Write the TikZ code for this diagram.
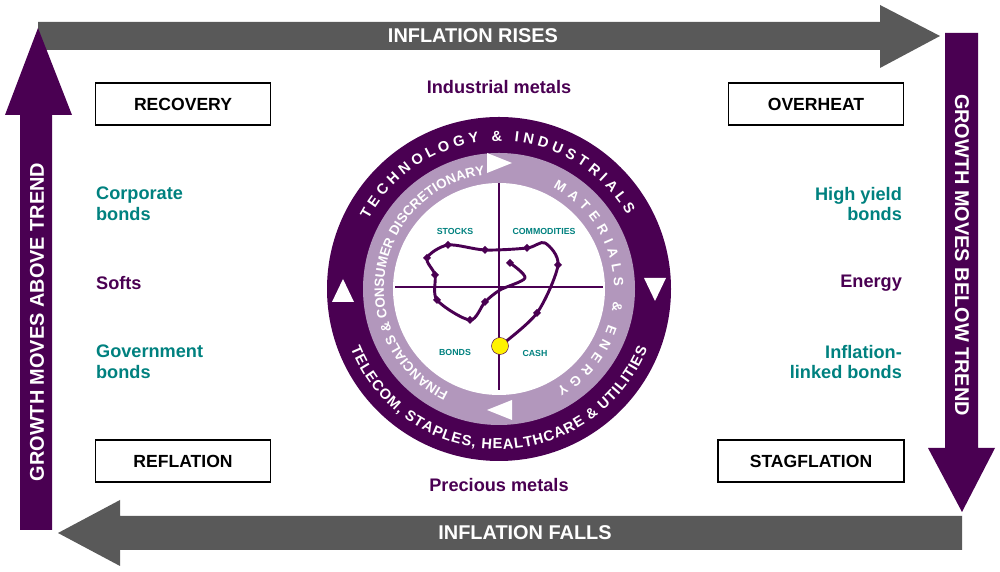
\documentclass[tikz,border=0pt]{standalone}
\usepackage{fontspec}
\setmainfont{Liberation Sans}
\usepackage{xcolor}
\usetikzlibrary{decorations.text,shapes.geometric}
\definecolor{purp}{HTML}{4A0052}
\definecolor{lpurp}{HTML}{B297BC}
\definecolor{tealc}{HTML}{00817F}
\definecolor{gry}{HTML}{595959}
\begin{document}
\begin{tikzpicture}[
    x=0.03cm, y=0.03cm,
    every node/.style={font=\bfseries},
    arrowtext/.style={text=white, font=\bfseries\fontsize{17}{19}\selectfont},
    phase/.style={draw=black, line width=1pt, minimum width=175*0.03cm, minimum height=42*0.03cm, font=\bfseries\fontsize{15}{17}\selectfont},
    asset/.style={text=tealc, font=\bfseries\fontsize{15.5}{17.5}\selectfont, align=left},
    comm/.style={text=purp, font=\bfseries\fontsize{15.5}{17.5}\selectfont},
    quad/.style={text=tealc, font=\bfseries\fontsize{7.5}{8}\selectfont},
    ringtext/.style={decorate, decoration={text along path, text align=fit to path}}
]
\tikzstyle{knot} = [diamond, fill=purp, minimum size=7pt, inner sep=0pt]
\useasboundingbox (0,0) rectangle (1000,572);

% big arrows
\fill[gry] (38,522) -- (880,522) -- (880,504) -- (940,536) -- (880,567) -- (880,550) -- (38,550) -- cycle;
\node[arrowtext] (rises) at (473,536) {INFLATION RISES};
\fill[gry] (962,22) -- (120,22) -- (120,6) -- (58,39) -- (120,72) -- (120,56) -- (962,56) -- cycle;
\node[arrowtext] (falls) at (525,39) {INFLATION FALLS};
\fill[purp] (20,42) -- (20,457) -- (5,457) -- (38,544) -- (72,457) -- (52,457) -- (52,42) -- cycle;
\node[arrowtext, rotate=90] (above) at (37,250) {GROWTH MOVES ABOVE TREND};
\fill[purp] (945,539) -- (945,124) -- (928,124) -- (962,60) -- (995,124) -- (978,124) -- (978,539) -- cycle;
\node[arrowtext, rotate=-90] (below) at (962,317) {GROWTH MOVES BELOW TREND};

% phases
\node[phase] (recovery) at (183,468) {RECOVERY};
\node[phase] (overheat) at (816,468) {OVERHEAT};
\node[phase] (reflation) at (183,111) {REFLATION};
\node[phase, minimum width=186*0.03cm] (stagflation) at (811,111) {STAGFLATION};

% assets
\node[asset, anchor=west] (corp) at (92,368) {Corporate\\bonds};
\node[comm, anchor=west] (softs) at (92,289) {Softs};
\node[asset, anchor=west] (govt) at (92,210) {Government\\bonds};
\node[asset, anchor=east, align=right] (hy) at (906,368) {High yield\\bonds};
\node[comm, anchor=east] (energy) at (906,289) {Energy};
\node[asset, anchor=east, align=right] (linked) at (906,210) {Inflation-\\linked bonds};
\node[comm] (industrial) at (499,485) {Industrial metals};
\node[comm] (precious) at (499,87) {Precious metals};

% clock
\coordinate (C) at (499,283);
\fill[purp] (C) circle (172);
\fill[lpurp] (C) circle (136);
\fill[white] (C) circle (106);
\path[ringtext, decoration={text={|\color{white}\bfseries\fontsize{12.5}{14}\selectfont|TECHNOLOGY {\&} INDUSTRIALS}}]
    ([shift={(152:148)}]C) arc[start angle=152, end angle=30, radius=148];
\path[ringtext, decoration={text={|\color{white}\bfseries\fontsize{12.5}{14}\selectfont|TELECOM, STAPLES, HEALTHCARE {\&} UTILITIES}}]
    ([shift={(202:160)}]C) arc[start angle=202, end angle=338, radius=160];
\path[ringtext, decoration={text={|\color{white}\bfseries\fontsize{11.5}{13}\selectfont|FINANCIALS {\&} CONSUMER DISCRETIONARY}}]
    ([shift={(244:115)}]C) arc[start angle=244, end angle=97, radius=115];
\path[ringtext, decoration={text={|\color{white}\bfseries\fontsize{11.5}{13}\selectfont|MATERIALS {\&} ENERGY}}]
    ([shift={(62:115)}]C) arc[start angle=62, end angle=-60, radius=115];
\fill[white] (487,419) -- (512,409) -- (487,399) -- cycle;
\fill[white] (512,172) -- (487,162) -- (512,152) -- cycle;
\fill[white] (332,270) -- (343,293) -- (354,270) -- cycle;
\fill[white] (644,294) -- (655,271) -- (666,294) -- cycle;

% quadrants
\draw[purp, line width=1.5pt] (499,389) -- (499,182);
\draw[purp, line width=1.5pt] (395,285) -- (603,285);
\node[quad] (stocks) at (455,341) {STOCKS};
\node[quad] (commodities) at (544,341) {COMMODITIES};
\node[quad] (bonds) at (455,220) {BONDS};
\node[quad] (cash) at (535,219) {CASH};

% cycle path
\draw[purp, line width=2.5pt, line join=round] plot[smooth, tension=0.5] coordinates {
    (500,226) (537,259) (558,307) (545,329) (527,324) (485,322) (448,327) (427,314)
    (435,297) (437,272) (470,252) (485,270) (500,282) (525,294) (510,309)};
\foreach \px/\py in {537/259, 558/307, 527/324, 485/322, 448/327, 427/314, 435/297, 437/272, 470/252, 485/270, 510/309}
    \node[knot] at (\px,\py) {};
\node[circle, fill=yellow, draw=purp, minimum size=17*0.03cm, inner sep=0pt] (now) at (500,226) {};
\end{tikzpicture}
\end{document}
